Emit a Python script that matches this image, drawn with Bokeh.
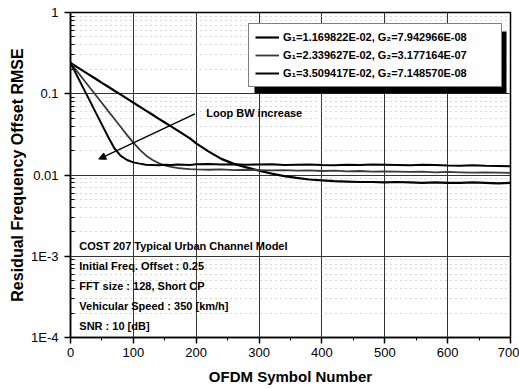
from bokeh.plotting import figure
from bokeh.models import (Legend, LegendItem, FixedTicker, CustomJSTickFormatter, BoxAnnotation,
                          Label, Arrow, NormalHead, Range1d, SingleIntervalTicker)
from bokeh.embed import file_html
from bokeh.resources import INLINE

# ---------------- data ----------------
symbols = [0, 10, 20, 30, 40, 50, 60, 70, 80, 90, 100, 110, 120, 130, 140, 150, 160, 170, 180, 190, 200,
           220, 240, 260, 280, 300, 320, 340, 360, 380, 400, 420, 440, 460, 480, 500, 520, 540, 560, 580,
           600, 620, 640, 660, 680, 700]

rmse_g1_small = [0.240, 0.214, 0.191, 0.171, 0.153, 0.136, 0.122, 0.109, 0.0975, 0.0871, 0.0778, 0.0695,
                 0.0621, 0.0555, 0.0495, 0.0443, 0.0396, 0.0354, 0.0316, 0.0282, 0.0245,
                 0.0194, 0.0158, 0.0137, 0.0124, 0.0113, 0.0104, 0.0097, 0.0092, 0.0088, 0.0086, 0.0084,
                 0.0083, 0.0082, 0.0082, 0.0081, 0.0082, 0.0081, 0.0080, 0.0081, 0.0080, 0.0080, 0.0081,
                 0.0080, 0.0079, 0.0080]

rmse_g1_mid = [0.240, 0.191, 0.152, 0.121, 0.0966, 0.0769, 0.0612, 0.0488, 0.0389, 0.0310, 0.0250, 0.0205,
               0.0174, 0.0154, 0.0140, 0.0131, 0.0126, 0.0122, 0.0120, 0.0118, 0.0117,
               0.0116, 0.0117, 0.0115, 0.0116, 0.0115, 0.0114, 0.0115, 0.0113, 0.0114, 0.0112, 0.0113,
               0.0111, 0.0112, 0.0110, 0.0111, 0.0110, 0.0109, 0.0110, 0.0108, 0.0109, 0.0108, 0.0107,
               0.0108, 0.0107, 0.0106]

rmse_g1_large = [0.240, 0.169, 0.119, 0.084, 0.059, 0.0417, 0.0294, 0.0212, 0.0172, 0.0153, 0.0143, 0.0138,
                 0.0134, 0.0133, 0.0132, 0.0134, 0.0133, 0.0135, 0.0134, 0.0133, 0.0136,
                 0.0137, 0.0135, 0.0136, 0.0134, 0.0135, 0.0136, 0.0133, 0.0134, 0.0135, 0.0133, 0.0132,
                 0.0134, 0.0133, 0.0135, 0.0134, 0.0133, 0.0132, 0.0134, 0.0133, 0.0131, 0.0130, 0.0132,
                 0.0130, 0.0129, 0.0128]

series_labels = ["G\u2081=1.169822E-02, G\u2082=7.942966E-08",
                 "G\u2081=2.339627E-02, G\u2082=3.177164E-07",
                 "G\u2081=3.509417E-02, G\u2082=7.148570E-08"]

y_major_ticks = [1e-4, 1e-3, 1e-2, 1e-1, 1.0]
info_lines = ["COST 207 Typical Urban Channel Model",
              "Initial Freq. Offset : 0.25",
              "FFT size : 128, Short CP",
              "Vehicular Speed : 350 [km/h]",
              "SNR : 10 [dB]"]
info_y = [1.33e-3, 7.5e-4, 4.26e-4, 2.41e-4, 1.37e-4]

FONT = "Liberation Sans"

p = figure(width=519, height=389, y_axis_type="log", output_backend="svg",
           toolbar_location=None, x_range=Range1d(0, 700), y_range=Range1d(1e-4, 1),
           min_border_left=70, min_border_right=9, min_border_top=12, min_border_bottom=52)
p.background_fill_color = "white"
p.border_fill_color = "white"
p.outline_line_color = "black"
p.outline_line_width = 1.5

# axes
p.xaxis.ticker = SingleIntervalTicker(interval=100, num_minor_ticks=2)
minor = [m * 10.0 ** e for e in range(-4, 0) for m in range(2, 10)]
p.yaxis.ticker = FixedTicker(ticks=y_major_ticks, minor_ticks=minor)
p.yaxis.formatter = CustomJSTickFormatter(code="""
const e = Math.round(Math.log10(tick));
if (e == 0) return "1";
if (e == -1) return "0.1";
if (e == -2) return "0.01";
return "1E" + e;
""")
for ax in (p.xaxis[0], p.yaxis[0]):
    ax.axis_line_color = "black"
    ax.axis_line_width = 1.5
    ax.major_tick_line_color = "black"
    ax.minor_tick_line_color = "black"
    ax.major_tick_line_width = 1.5
    ax.major_label_text_font = FONT
    ax.major_label_text_font_size = "13px"
    ax.major_label_text_color = "black"
    ax.axis_label_text_font = FONT
    ax.axis_label_text_font_style = "bold"
    ax.axis_label_text_color = "black"
p.xaxis.major_tick_out = 6
p.xaxis.major_tick_in = 0
p.xaxis.minor_tick_out = 3
p.xaxis.minor_tick_in = 0
p.yaxis.major_tick_out = 6
p.yaxis.major_tick_in = 0
p.yaxis.minor_tick_out = 0
p.yaxis.minor_tick_in = 4
p.xaxis.axis_label = "OFDM Symbol Number"
p.yaxis.axis_label = "Residual Frequency Offset RMSE"
p.xaxis.axis_label_text_font_size = "15px"
p.yaxis.axis_label_text_font_size = "16px"
p.xaxis.major_label_standoff = 4
p.yaxis.major_label_standoff = 6
p.xaxis.axis_label_standoff = 8
p.yaxis.axis_label_standoff = 2

# grid
p.xgrid.grid_line_color = "#333333"
p.xgrid.grid_line_width = 1
p.ygrid.grid_line_color = "#333333"
p.ygrid.grid_line_width = 1
p.ygrid.minor_grid_line_color = "#b0b0b0"
p.ygrid.minor_grid_line_dash = "1 4"
p.ygrid.minor_grid_line_width = 1

# curves
r1 = p.line(symbols, rmse_g1_small, line_color="black", line_width=2.2)
r2 = p.line(symbols, rmse_g1_mid, line_color="#3a3a3a", line_width=1.8)
r3 = p.line(symbols, rmse_g1_large, line_color="black", line_width=2.0)

# legend with a drop shadow
LEG_W, LEG_H = 252, 62
p.add_layout(BoxAnnotation(left=184, right=184 + LEG_W, bottom=244, top=244 + LEG_H,
                           left_units="screen", right_units="screen",
                           bottom_units="screen", top_units="screen",
                           fill_color="black", fill_alpha=1.0, line_color=None))
items = [LegendItem(label=series_labels[i], renderers=[r]) for i, r in enumerate([r1, r2, r3])]
legend = Legend(items=items, location=(178, 250),
                orientation="vertical", padding=6, spacing=4, glyph_height=14, glyph_width=24,
                label_height=14, label_width=LEG_W - 12 - 24 - 4, label_standoff=4, margin=0,
                label_text_font=FONT, label_text_font_style="bold", label_text_font_size="11px",
                label_text_color="black",
                border_line_color="black", border_line_width=1.5,
                background_fill_color="white", background_fill_alpha=1.0)
p.add_layout(legend, "center")

# annotations
p.add_layout(Arrow(end=NormalHead(size=7, fill_color="black", line_color="black"),
                   x_start=198, y_start=0.0566, x_end=45, y_end=0.0157,
                   line_color="black", line_width=1.3))
p.add_layout(Label(x=216, y=0.0583, text="Loop BW increase", text_font=FONT,
                   text_font_style="bold", text_font_size="11px", text_baseline="middle",
                   text_color="black"))
for txt, yy in zip(info_lines, info_y):
    p.add_layout(Label(x=14, y=yy, text=txt, text_font=FONT, text_font_style="bold",
                       text_font_size="11px", text_baseline="middle", text_color="black"))

open("out.html", "w").write(file_html(p, INLINE))
